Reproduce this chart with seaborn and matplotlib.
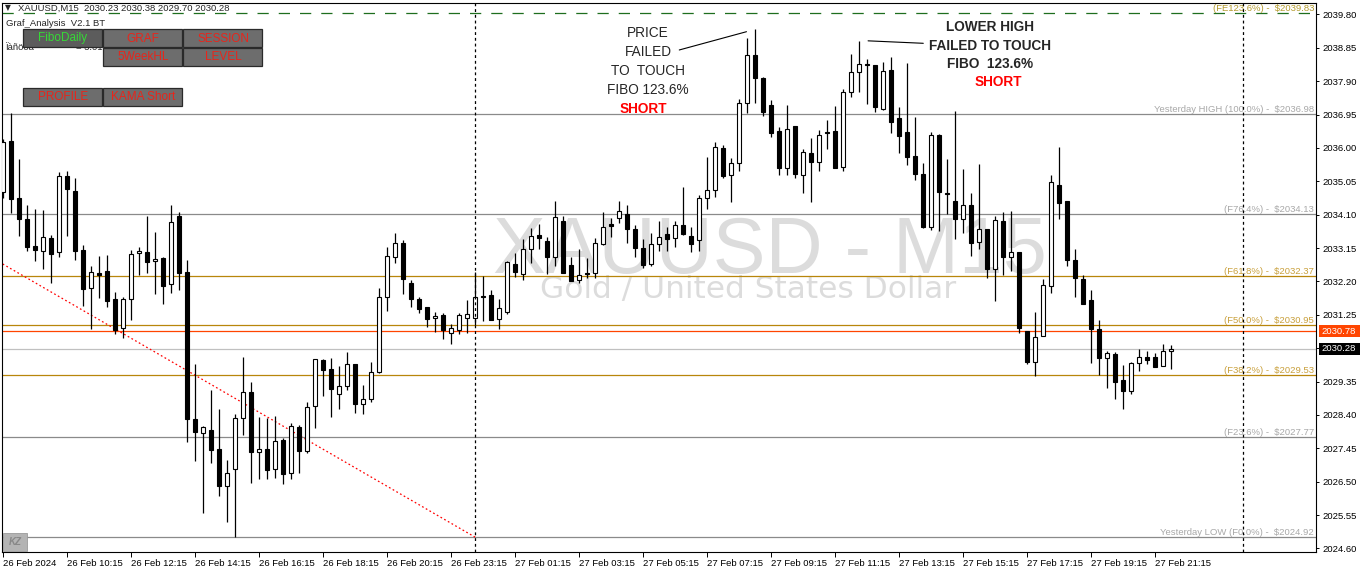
import numpy as np
import pandas as pd
import matplotlib
matplotlib.use("Agg")
import matplotlib.pyplot as plt
from matplotlib.patches import Rectangle
import seaborn as sns

# XAUUSD M15 candles, one per 15 minutes
opens = [2034.74, 2036.20, 2034.57, 2033.98, 2033.21, 2033.08, 2033.44, 2033.03, 2035.19, 2034.78,
         2033.09, 2032.01, 2032.44, 2032.50, 2031.70, 2030.89, 2031.71, 2033.00, 2033.03, 2032.78,
         2032.87, 2032.12, 2034.07, 2032.47, 2028.28, 2027.89, 2027.97, 2027.43, 2026.37, 2026.85,
         2028.31, 2029.06, 2027.34, 2027.43, 2026.85, 2027.69, 2026.74, 2028.06, 2027.38, 2028.66,
         2029.97, 2029.70, 2028.99, 2029.23, 2029.84, 2028.71, 2028.85, 2029.63, 2031.77, 2032.89,
         2033.29, 2032.16, 2031.69, 2031.47, 2031.15, 2031.24, 2030.73, 2030.83, 2031.15, 2031.15,
         2031.80, 2031.82, 2031.12, 2031.34, 2032.69, 2032.41, 2033.13, 2033.52, 2033.35, 2032.91,
         2033.93, 2032.67, 2032.24, 2032.43, 2032.45, 2033.27, 2033.83, 2034.00, 2034.12, 2033.69,
         2033.15, 2032.70, 2033.26, 2033.54, 2033.43, 2033.81, 2033.50, 2033.38, 2034.57, 2034.79,
         2036.01, 2035.23, 2035.57, 2037.27, 2038.65, 2038.00, 2037.22, 2036.48, 2035.42, 2036.62,
         2035.23, 2035.85, 2035.61, 2036.45, 2036.48, 2035.45, 2037.59, 2038.16, 2038.39, 2038.36,
         2037.10, 2038.22, 2036.86, 2036.46, 2035.78, 2035.26, 2033.74, 2036.37, 2034.71, 2034.49,
         2033.97, 2034.38, 2033.32, 2033.69, 2032.55, 2033.92, 2032.91, 2033.03, 2030.79, 2029.92,
         2030.66, 2032.08, 2034.95, 2034.49, 2032.81, 2032.27, 2031.67, 2030.85, 2030.03, 2030.13,
         2029.40, 2029.08, 2029.87, 2030.06, 2030.06, 2029.80, 2030.23]
highs = [2036.26, 2036.99, 2035.68, 2034.37, 2034.26, 2034.24, 2033.52, 2035.33, 2035.35, 2035.14,
         2033.23, 2032.64, 2032.93, 2032.95, 2031.89, 2031.77, 2033.10, 2033.17, 2034.07, 2033.61,
         2032.91, 2034.38, 2034.18, 2032.81, 2029.85, 2028.09, 2029.11, 2028.57, 2027.12, 2028.43,
         2030.04, 2029.35, 2028.35, 2028.31, 2028.37, 2027.75, 2028.18, 2028.12, 2028.77, 2030.00,
         2029.99, 2030.03, 2029.80, 2030.19, 2029.85, 2029.25, 2029.90, 2032.02, 2033.18, 2033.57,
         2033.38, 2032.23, 2031.75, 2031.47, 2031.33, 2031.29, 2030.98, 2031.29, 2031.67, 2032.48,
         2032.36, 2031.96, 2031.69, 2032.79, 2033.00, 2033.40, 2033.71, 2033.83, 2033.48, 2034.49,
         2034.05, 2032.89, 2033.12, 2032.86, 2033.43, 2034.17, 2034.00, 2034.49, 2034.38, 2033.81,
         2033.40, 2033.59, 2033.92, 2033.76, 2033.92, 2034.88, 2033.74, 2034.66, 2035.74, 2036.18,
         2036.09, 2035.72, 2037.40, 2039.12, 2039.39, 2038.03, 2037.37, 2036.61, 2037.22, 2036.62,
         2035.96, 2036.29, 2036.51, 2036.80, 2037.20, 2037.68, 2038.67, 2039.05, 2038.52, 2038.37,
         2038.46, 2038.58, 2037.18, 2038.41, 2036.87, 2035.58, 2036.46, 2036.40, 2035.69, 2037.06,
         2035.40, 2034.71, 2035.54, 2033.69, 2034.05, 2034.19, 2034.21, 2033.03, 2030.79, 2031.34,
         2032.26, 2035.23, 2036.04, 2034.49, 2033.12, 2032.39, 2031.96, 2031.10, 2030.22, 2030.20,
         2029.82, 2029.90, 2030.28, 2030.23, 2030.17, 2030.41, 2030.38]
lows = [2034.58, 2034.14, 2033.50, 2033.08, 2032.78, 2032.56, 2032.17, 2032.91, 2033.50, 2032.81,
        2031.50, 2030.84, 2031.74, 2031.48, 2030.70, 2030.60, 2031.09, 2032.39, 2032.43, 2031.85,
        2031.56, 2031.88, 2031.96, 2027.64, 2027.10, 2025.62, 2027.04, 2026.10, 2025.36, 2024.92,
        2027.83, 2026.47, 2026.59, 2026.57, 2026.62, 2026.43, 2026.57, 2026.76, 2027.33, 2028.02,
        2028.94, 2028.33, 2028.56, 2029.11, 2028.45, 2028.43, 2028.78, 2029.60, 2031.37, 2032.74,
        2031.84, 2031.47, 2031.29, 2030.91, 2030.75, 2030.57, 2030.41, 2030.70, 2030.73, 2030.96,
        2031.08, 2031.09, 2030.84, 2031.28, 2032.34, 2032.24, 2032.74, 2033.13, 2032.41, 2032.64,
        2032.43, 2032.20, 2032.17, 2032.31, 2032.31, 2033.24, 2033.48, 2033.86, 2033.29, 2032.89,
        2032.59, 2032.64, 2033.07, 2033.08, 2033.17, 2033.52, 2033.03, 2033.08, 2034.26, 2034.61,
        2035.14, 2034.47, 2035.35, 2037.01, 2037.29, 2036.91, 2036.31, 2035.23, 2035.23, 2035.14,
        2034.73, 2034.47, 2035.35, 2035.96, 2035.42, 2035.35, 2037.44, 2037.60, 2037.25, 2037.03,
        2037.08, 2036.42, 2035.87, 2035.51, 2035.09, 2033.71, 2033.67, 2033.64, 2034.12, 2033.40,
        2033.59, 2032.93, 2033.12, 2032.31, 2031.65, 2032.39, 2032.50, 2030.74, 2029.84, 2029.52,
        2030.65, 2031.86, 2033.98, 2032.64, 2031.77, 2031.56, 2029.87, 2029.54, 2029.18, 2028.85,
        2028.56, 2029.00, 2029.65, 2029.85, 2029.76, 2029.80, 2029.70]
closes = [2036.18, 2034.56, 2033.97, 2033.19, 2033.11, 2033.47, 2032.99, 2035.19, 2034.84, 2033.08,
          2032.00, 2032.46, 2032.39, 2031.65, 2030.83, 2031.69, 2032.98, 2033.06, 2032.76, 2032.83,
          2032.08, 2033.89, 2032.45, 2028.30, 2027.91, 2028.07, 2027.41, 2026.39, 2026.74, 2028.31,
          2029.06, 2027.36, 2027.43, 2026.84, 2027.65, 2026.73, 2028.09, 2027.38, 2028.62, 2029.99,
          2029.67, 2029.13, 2029.23, 2029.84, 2028.70, 2028.85, 2029.63, 2031.75, 2032.92, 2033.29,
          2032.26, 2031.69, 2031.43, 2031.12, 2031.22, 2030.83, 2030.88, 2031.24, 2031.27, 2031.77,
          2031.77, 2031.11, 2031.44, 2032.76, 2032.48, 2033.12, 2033.50, 2033.43, 2032.89, 2034.03,
          2032.45, 2032.22, 2032.39, 2032.41, 2033.29, 2033.74, 2033.79, 2034.21, 2033.69, 2033.16,
          2032.67, 2033.26, 2033.46, 2033.41, 2033.81, 2033.54, 2033.26, 2034.57, 2034.80, 2036.02,
          2035.21, 2035.57, 2037.27, 2038.65, 2038.00, 2037.03, 2036.42, 2035.42, 2036.54, 2035.25,
          2035.89, 2035.61, 2036.36, 2036.43, 2035.44, 2037.59, 2038.17, 2038.39, 2038.37, 2037.18,
          2038.19, 2036.75, 2036.35, 2035.75, 2035.26, 2033.74, 2036.37, 2034.76, 2034.68, 2033.97,
          2034.38, 2033.30, 2033.69, 2032.55, 2033.95, 2032.89, 2033.03, 2030.89, 2029.92, 2030.61,
          2032.10, 2035.02, 2034.44, 2032.81, 2032.31, 2031.56, 2030.85, 2030.03, 2030.16, 2029.35,
          2029.09, 2029.87, 2030.06, 2029.97, 2029.78, 2030.23, 2030.28]

xtick_pos = [0, 8, 16, 24, 32, 40, 48, 56, 64, 72, 80, 88, 96, 104, 112, 120, 128, 136, 144]
xtick_labels = ["26 Feb 2024", "26 Feb 10:15", "26 Feb 12:15", "26 Feb 14:15", "26 Feb 16:15",
                "26 Feb 18:15", "26 Feb 20:15", "26 Feb 23:15", "27 Feb 01:15", "27 Feb 03:15",
                "27 Feb 05:15", "27 Feb 07:15", "27 Feb 09:15", "27 Feb 11:15", "27 Feb 13:15",
                "27 Feb 15:15", "27 Feb 17:15", "27 Feb 19:15", "27 Feb 21:15"]
ytick_vals = [2039.80, 2038.85, 2037.90, 2036.95, 2036.00, 2035.05, 2034.10, 2033.15, 2032.20,
              2031.25, 2030.30, 2029.35, 2028.40, 2027.45, 2026.50, 2025.55, 2024.60]

fib_levels = [2039.83, 2036.98, 2034.13, 2032.37, 2030.95, 2029.53, 2027.77, 2024.92]
fib_names = ["(FE123.6%) -  $2039.83", "Yesterday HIGH (100.0%) -  $2036.98",
             "(F76.4%) -  $2034.13", "(F61.8%) -  $2032.37", "(F50.0%) -  $2030.95",
             "(F38.2%) -  $2029.53", "(F23.6%) -  $2027.77", "Yesterday LOW (F0.0%) -  $2024.92"]
fib_kind = ["fe", "gray", "gray", "gold", "gold", "gold", "gray", "gray"]

ask_price = 2030.78
bid_price = 2030.28
day_breaks = [59, 155]
trend_x = [-1, 59]
trend_y = [2032.82, 2024.92]
note1_x = [84.5, 92.9]
note1_y = [2038.79, 2039.31]
note2_x = [108.1, 115.0]
note2_y = [2039.05, 2038.98]

sns.set_style("white")
plt.rcParams["font.family"] = ["Liberation Sans", "DejaVu Sans"]

W, H = 1362, 573
def fx(x):
    return x / W
def fy(y):
    return 1 - y / H

fig = plt.figure(figsize=(W / 100, H / 100), dpi=100, facecolor="white")
ax = fig.add_axes([fx(2), fy(552), 1314 / W, 549 / H])
ax.set_facecolor("white")

df = pd.DataFrame({"o": opens, "h": highs, "l": lows, "c": closes})
df["i"] = np.arange(len(df))
df["bull"] = df["c"] >= df["o"]
df["bottom"] = df[["o", "c"]].min(axis=1)
df["height"] = (df["c"] - df["o"]).abs().clip(lower=0.025)

# wicks then bodies
ax.vlines(df["i"], df["l"], df["h"], color="black", lw=0.9, zorder=3)
ax.bar(df["i"], df["height"], bottom=df["bottom"], width=0.55,
       color=np.where(df["bull"], "white", "black"), edgecolor="black",
       linewidth=0.8, zorder=4)

# fibo levels
line_col = {"fe": "#1e6e1e", "gray": "#8a8a8a", "gold": "#b8860b"}
text_col = {"fe": "#b39a2c", "gray": "#a8a8a8", "gold": "#c9a03c"}
ytr = ax.get_yaxis_transform()
for lvl, name, kind in zip(fib_levels, fib_names, fib_kind):
    if kind == "fe":
        ax.axhline(lvl, color=line_col[kind], lw=0.9, dashes=(9, 8), zorder=2)
    else:
        ax.axhline(lvl, color=line_col[kind], lw=0.9, zorder=2)
    ax.text(0.9985, lvl, name, transform=ytr, ha="right", va="bottom",
            color=text_col[kind], fontsize=6.8, zorder=2)

ax.axhline(ask_price, color="#ff4500", lw=0.9, zorder=2)
ax.axhline(bid_price, color="#c0c0c0", lw=0.9, zorder=2)

for bx in day_breaks:
    ax.axvline(bx, color="black", lw=0.9, dashes=(2.3, 2.3), zorder=5)

sns.lineplot(x=trend_x, y=trend_y, ax=ax, color="red", lw=0.9,
             linestyle=(0, (1.4, 2.0)), zorder=2)
ax.plot(note1_x, note1_y, color="black", lw=0.8, zorder=5)
ax.plot(note2_x, note2_y, color="black", lw=0.8, zorder=5)

ax.set_xlim(-0.16, 164.09)
ax.set_ylim(2024.50, 2040.127)

ax.yaxis.tick_right()
ax.set_yticks(ytick_vals)
ax.set_yticklabels([f"{v:.2f}" for v in ytick_vals])
ax.set_xticks(xtick_pos)
ax.set_xticklabels(xtick_labels, ha="left")
ax.tick_params(axis="y", right=True, left=False, direction="out", length=2.5,
               width=0.7, pad=2, labelsize=6.8, colors="black")
ax.tick_params(axis="x", bottom=True, direction="out", length=3.5,
               width=0.7, pad=1.2, labelsize=6.8, colors="black")
for s in ax.spines.values():
    s.set_color("black")
    s.set_linewidth(0.8)
ax.set_xlabel("")
ax.set_ylabel("")

# price tags on the right scale
tag_h = 0.34
for price, col in [(ask_price, "#ff4500"), (bid_price, "black")]:
    ax.add_patch(Rectangle((1.0023, price - tag_h / 2), 0.0312, tag_h, transform=ytr,
                           facecolor=col, edgecolor="none", clip_on=False, zorder=10))
    ax.text(1.0045, price, f"{price:.2f}", transform=ytr, ha="left", va="center",
            color="white", fontsize=6.8, clip_on=False, zorder=11)

# watermark
ax.text(fx(770), fy(273), "XAUUSD - M15", transform=fig.transFigure, ha="center",
        va="baseline", fontsize=57, color="#dcdcdc", zorder=0)
ax.text(fx(748), fy(298), "Gold / United States Dollar", transform=fig.transFigure,
        ha="center", va="baseline", fontsize=22.5, color="#dcdcdc", zorder=0,
        family="DejaVu Sans")

# header texts
fig.text(fx(5), fy(8), "\u25bc", fontsize=5.5, va="center", family="DejaVu Sans")
fig.text(fx(18), fy(8), "XAUUSD,M15  2030.23 2030.38 2029.70 2030.28", fontsize=6.8, va="center")
fig.text(fx(6), fy(23), "Graf_Analysis  V2.1 BT", fontsize=6.8, va="center")
fig.text(fx(6), fy(48), "\u00cf\u00e0\u00f1\u00f6\u00f3\u00e5", fontsize=6.8, va="center")
fig.text(fx(76), fy(48), "= 3.0150", fontsize=6.8, va="center")

buttons = [("FiboDaily", 23, 29, "#36d936", "#5c5c5c"), ("GRAF", 103, 29, "#e8251b", "#6d6d6d"),
           ("SESSION", 183, 29, "#e8251b", "#6d6d6d"), ("5WeekHL", 103, 48, "#e8251b", "#6d6d6d"),
           ("LEVEL", 183, 48, "#e8251b", "#6d6d6d"), ("PROFILE", 23, 88, "#e8251b", "#6d6d6d"),
           ("KAMA Short", 103, 88, "#e8251b", "#6d6d6d")]
for label, bx, by, tc, fc in buttons:
    fig.add_artist(Rectangle((fx(bx), fy(by + 18)), 79 / W, 18 / H, transform=fig.transFigure,
                             facecolor=fc, edgecolor="#2a2a2a", lw=0.9, zorder=6))
    fig.text(fx(bx + 40), fy(by + 9.5), label, ha="center", va="center", color=tc,
             fontsize=8.5, zorder=7)

# KZ logo
fig.add_artist(Rectangle((fx(3), fy(551)), 24 / W, 18 / H, transform=fig.transFigure,
                         facecolor="#b4b4b4", edgecolor="#9a9a9a", lw=0.6, zorder=6))
fig.text(fx(15), fy(542), "KZ", ha="center", va="center", color="#888888", fontsize=7,
         fontweight="bold", style="italic", zorder=7)

# annotations
for txt, y in [("PRICE", 33), ("FAILED", 52), ("TO  TOUCH", 71), ("FIBO 123.6%", 90)]:
    fig.text(fx(648), fy(y), txt, ha="center", va="center", fontsize=9.8)
fig.text(fx(643), fy(109), "SHORT", ha="center", va="center", fontsize=9.8,
         color="red", fontweight="bold")
for txt, y in [("LOWER HIGH", 27), ("FAILED TO TOUCH", 45.5), ("FIBO  123.6%", 64.5)]:
    fig.text(fx(990), fy(y), txt, ha="center", va="center", fontsize=9.8, fontweight="bold")
fig.text(fx(998), fy(82), "SHORT", ha="center", va="center", fontsize=9.8,
         color="red", fontweight="bold")

fig.savefig("out.png", dpi=100, facecolor="white")
